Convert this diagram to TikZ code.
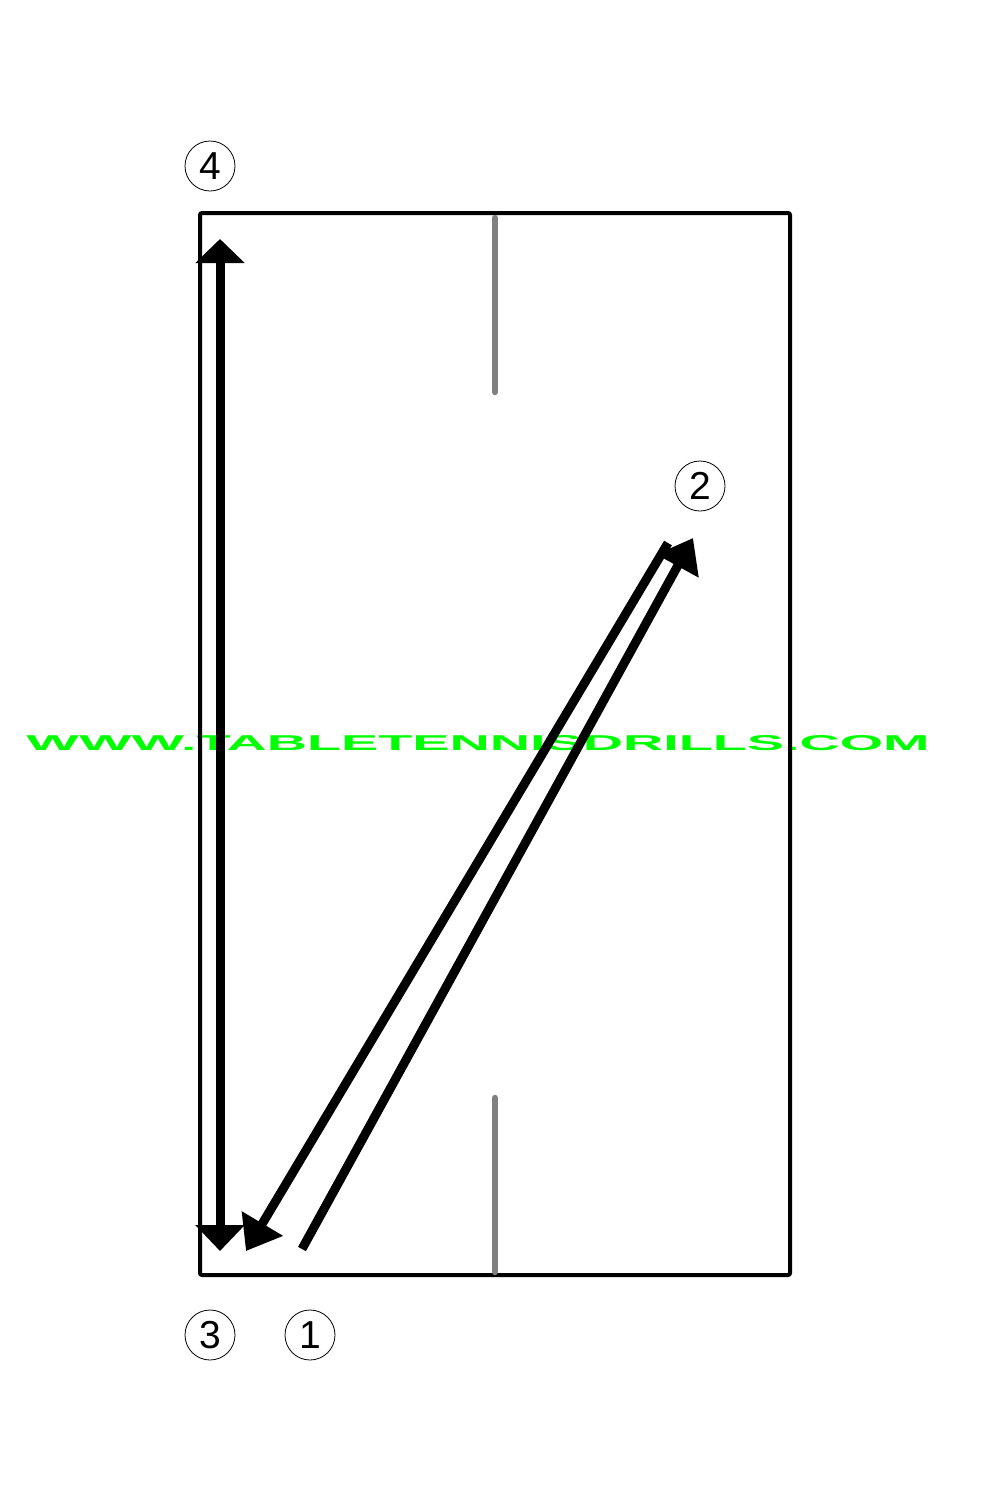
\documentclass[tikz,border=0pt]{standalone}
\usepackage{fontspec}
\setmainfont{Liberation Sans}
\usepackage{graphicx}
\usetikzlibrary{arrows.meta}
\definecolor{wmgreen}{HTML}{00FF00}
\definecolor{netgray}{HTML}{808080}
\tikzset{
  numlabel/.style={draw, circle, line width=0.8pt, minimum size=50pt, inner sep=0pt,
    font=\fontsize{39}{39}\selectfont},
  tableedge/.style={line width=4pt, rounded corners=2pt},
  centerline/.style={line width=6.5pt, draw=netgray, line cap=round},
  shot/.style={line width=9pt, -{Triangle[length=32pt,width=46pt]}},
  shotboth/.style={line width=9pt, {Triangle[length=24pt,width=48pt]}-{Triangle[length=26pt,width=48pt]}},
}
\begin{document}
\begin{tikzpicture}[x=1pt,y=-1pt]
\useasboundingbox (0,0) rectangle (1000,1500);
% watermark
\node[text=wmgreen, inner sep=0pt] (wm) at (478,743)
  {\resizebox{903pt}{15pt}{\bfseries WWW.TABLETENNISDRILLS.COM}};
% table
\draw[tableedge] (200,213) rectangle (790,1275);
\coordinate (ntop1) at (495,218);
\coordinate (ntop2) at (495,392);
\coordinate (nbot1) at (495,1098);
\coordinate (nbot2) at (495,1272);
\draw[centerline] (ntop1) -- (ntop2);
\draw[centerline] (nbot1) -- (nbot2);
% labels
\node[numlabel] (n4) at (210,166) {4};
\node[numlabel] (n2) at (700,486) {2};
\node[numlabel] (n3) at (210,1335) {3};
\node[numlabel] (n1) at (310,1335) {1};
% arrow endpoints
\coordinate (a1s) at (302,1249);
\coordinate (a1e) at (693,538);
\coordinate (a2s) at (668,543);
\coordinate (a2e) at (246,1251);
\coordinate (a3s) at (220,1251);
\coordinate (a3e) at (220,239);
% arrows
\draw[shot] (a2s) -- (a2e);
\draw[shot] (a1s) -- (a1e);
\draw[shotboth] (a3e) -- (a3s);
\end{tikzpicture}
\end{document}
